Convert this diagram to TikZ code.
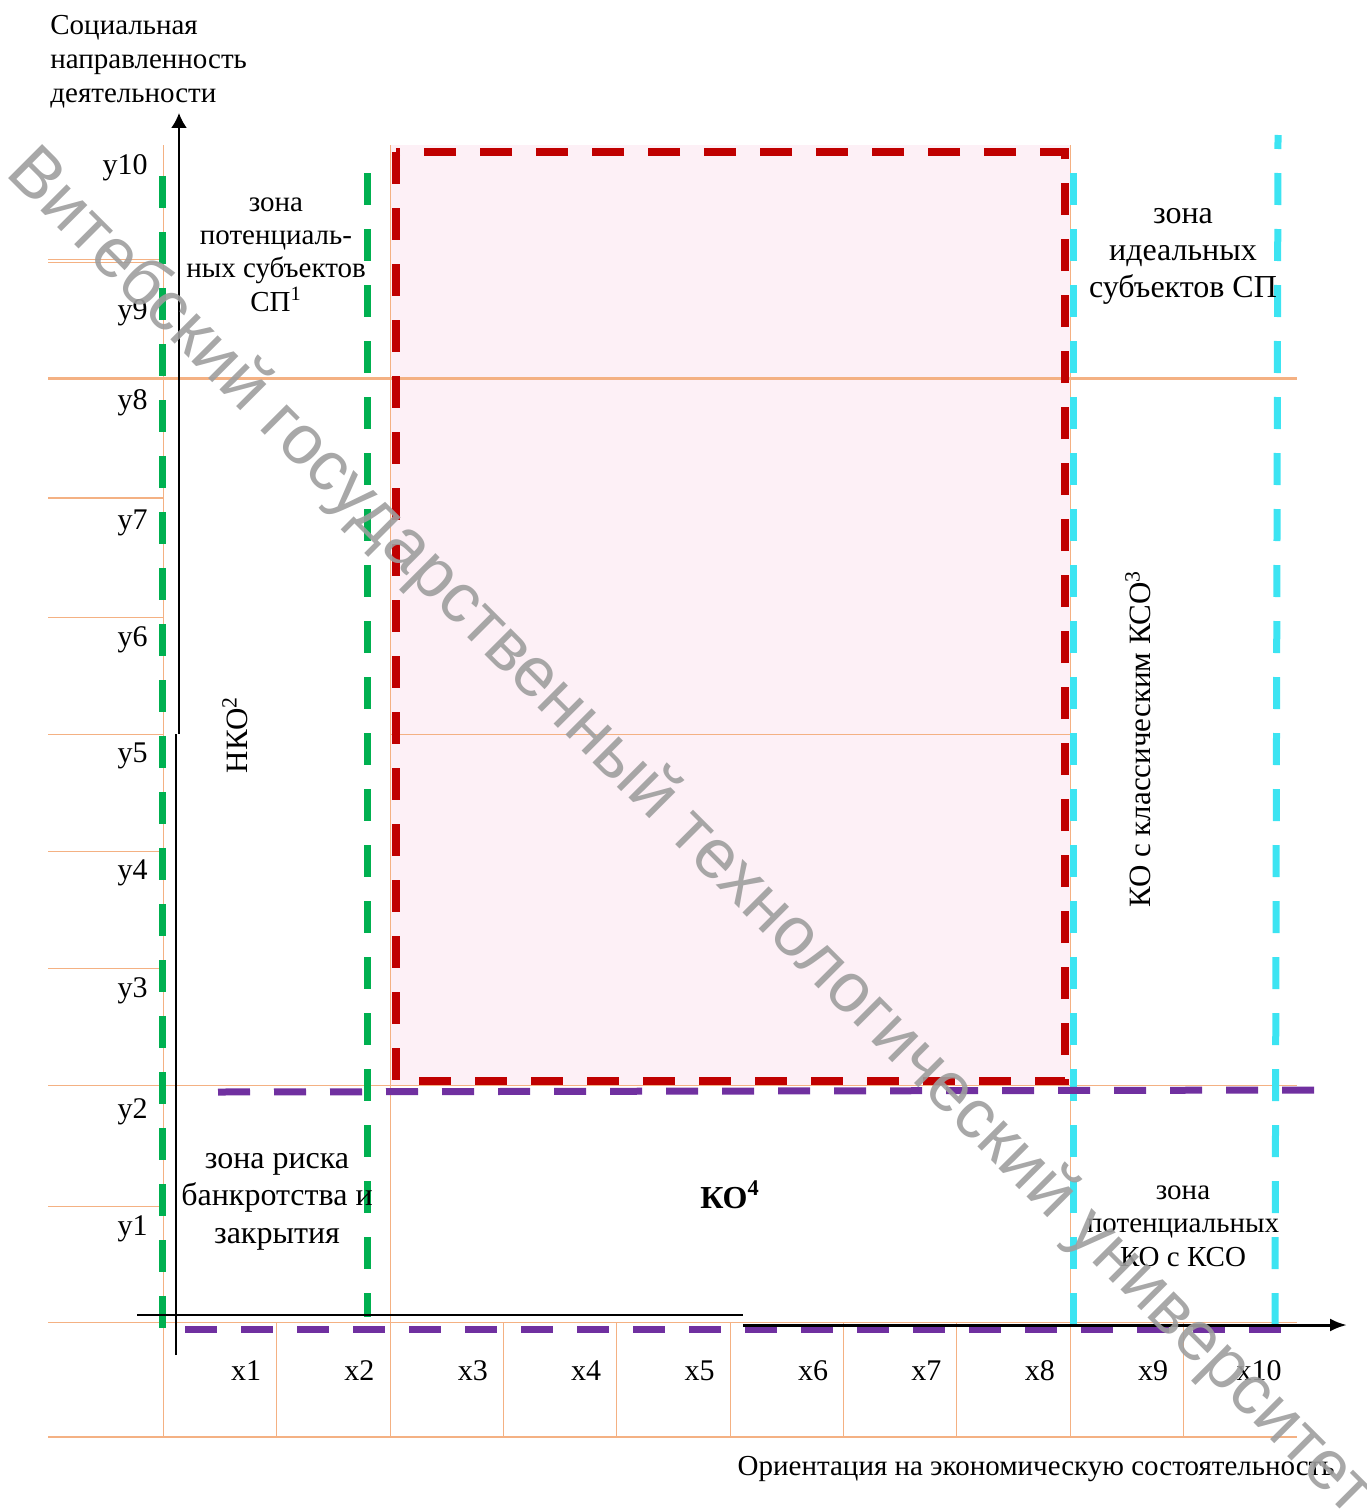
\documentclass[tikz,border=0pt]{standalone}
\usepackage{fontspec}
\setmainfont{Liberation Serif}
\newfontfamily\stampfont{Liberation Sans}
\usetikzlibrary{arrows.meta}

\definecolor{gridorange}{HTML}{F4B183}
\definecolor{redzone}{HTML}{C00000}
\definecolor{greenzone}{HTML}{00B050}
\definecolor{cyanzone}{HTML}{3CE4F2}
\definecolor{purplezone}{HTML}{7030A0}
\definecolor{pinkfill}{HTML}{FDF0F6}

\tikzset{
  gridline/.style={gridorange,line width=0.5pt},
  zonedash/.style={line width=#1,dash pattern=on 16pt off 12pt},
  axisline/.style={black,line width=1pt},
  lbl/.style={font=\fontsize{15}{17}\selectfont,inner sep=0pt},
  zonetext/.style={align=center,inner sep=0pt,anchor=north}
}

\begin{document}
\begin{tikzpicture}[x=0.5pt,y=-0.5pt]
  \useasboundingbox (0,0) rectangle (1366,1509);

  % table grid
  \fill[pinkfill] (390,145) rectangle (1070,1085);
  \begin{scope}[gridline]
    \foreach \y in {617,734,851,968,1206}
      \draw (48,\y) -- (163,\y);
    \draw (48,259) -- (163,259);
    \draw (48,262) -- (163,262);
    \draw (390,734) -- (1070,734);
    \foreach \y in {1085,1322}
      \draw (48,\y) -- (1297,\y);
    \foreach \x in {163,390,1070}
      \draw (\x,145) -- (\x,1437);
    \foreach \x in {276,503,616,730,843,956,1183}
      \draw (\x,1322) -- (\x,1437);
  \end{scope}
  \draw[gridorange,line width=1pt] (48,498) -- (163,498);
  \draw[gridorange,line width=1pt] (48,1437) -- (1297,1437);
  \draw[gridorange,line width=1.5pt] (48,378) -- (1297,378);

  % zone borders
  \coordinate (redA) at (396,152);
  \coordinate (redB) at (1065,1081);
  \coordinate (greenL1) at (162,176);
  \coordinate (greenL2) at (162,1330);
  \coordinate (greenR1) at (367,173);
  \coordinate (greenR2) at (367,1317);
  \coordinate (cyanL1) at (1073,173);
  \coordinate (cyanL2) at (1073,1326);
  \coordinate (cyanR1) at (1278,135);
  \coordinate (cyanR2) at (1275,1327);
  \coordinate (purpleT1) at (218,1092);
  \coordinate (purpleT2) at (1315,1090);
  \coordinate (purpleB1) at (185,1329);
  \coordinate (purpleB2) at (1282,1329);

  \draw[redzone,zonedash=4pt] (redA) rectangle (redB);
  \draw[greenzone,zonedash=3.5pt] (greenL1) -- (greenL2);
  \draw[greenzone,zonedash=3.5pt] (greenR1) -- (greenR2);
  \draw[cyanzone,zonedash=3.5pt] (cyanL1) -- (cyanL2);
  \draw[cyanzone,zonedash=3.5pt,dash phase=9pt] (cyanR1) -- (cyanR2);
  \draw[purplezone,zonedash=3.5pt] (purpleT1) -- (purpleT2);
  \draw[purplezone,zonedash=3.5pt] (purpleB1) -- (purpleB2);

  % axes
  \coordinate (yTop) at (179,113);
  \coordinate (yMidA) at (179,734);
  \coordinate (yMidB) at (176,734);
  \coordinate (yBot) at (176,1355);
  \coordinate (xLeft) at (137,1315);
  \coordinate (xStepA) at (743,1315);
  \coordinate (xStepB) at (743,1325);
  \coordinate (xRight) at (1347,1325);
  \draw[axisline,-{Latex[length=7.5pt,width=8pt]}] (yMidA) -- (yTop);
  \draw[axisline] (yBot) -- (yMidB);
  \draw[axisline] (xLeft) -- (xStepA);
  \draw[axisline,line width=1.5pt,-{Latex[length=8.5pt,width=6.5pt]}] (xStepB) -- (xRight);

  % axis labels
  \foreach \n/\yb in {1/1235,2/1118,3/997,4/879,5/762,6/646,7/529,8/409,9/319,10/174}
    \node[lbl,anchor=base east] (y\n) at (148,\yb) {y\n};
  \foreach \n in {1,...,10}
    \node[lbl,anchor=base east] (x\n) at ({148+113.4*\n},1380) {x\n};

  \node[anchor=north west,align=left,inner sep=0pt,font=\fontsize{14.5}{17}\selectfont]
    (ytitle) at (50,15) {Социальная\\направленность\\деятельности};
  \node[anchor=base east,inner sep=0pt,font=\fontsize{14.5}{17}\selectfont]
    (xtitle) at (1335,1475) {Ориентация на экономическую состоятельность};

  % zones
  \node[zonetext,font=\fontsize{14.5}{16.7}\selectfont] (potsp) at (276,197)
    {зона\\потенциаль-\\ных субъектов\\СП\textsuperscript{1}};
  \node[zonetext,font=\fontsize{16}{18.5}\selectfont] (ideal) at (1183,208)
    {зона\\идеальных\\субъектов СП};
  \node[zonetext,font=\fontsize{16}{18.7}\selectfont] (risk) at (277,1153)
    {зона риска\\банкротства и\\закрытия};
  \node[zonetext,font=\fontsize{14.5}{16.75}\selectfont] (potko) at (1183,1185)
    {зона\\потенциальных\\КО с КСО};
  \node[rotate=90,anchor=base,inner sep=0pt,font=\fontsize{15.5}{18}\selectfont]
    (nko) at (247,735) {НКО\textsuperscript{2}};
  \node[rotate=90,anchor=base,inner sep=0pt,font=\fontsize{15.5}{18}\selectfont]
    (kocso) at (1150,739) {КО с классическим КСО\textsuperscript{3}};
  \node[anchor=base,inner sep=0pt,font=\fontsize{16}{18}\selectfont\bfseries]
    (ko) at (730,1208) {КО\textsuperscript{4}};

  % watermark
  \node[rotate=-45,text=black!38,opacity=0.9,inner sep=0pt,font=\stampfont\fontsize{35}{35}\selectfont]
    (stamp) at (690,833) {Витебский государственный технологический университет};
\end{tikzpicture}
\end{document}
